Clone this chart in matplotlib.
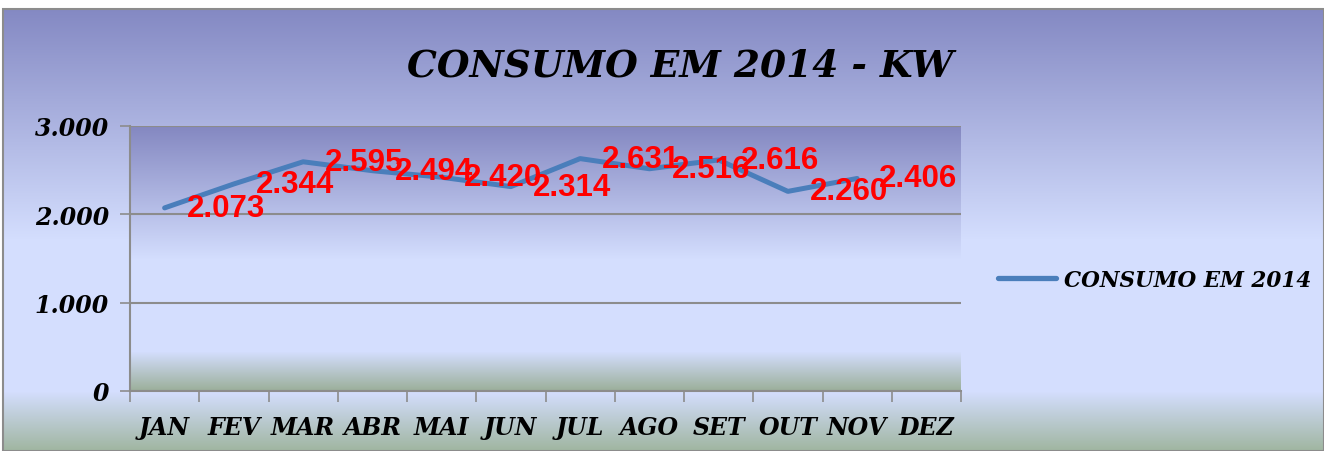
import numpy as np
import matplotlib
matplotlib.use("Agg")
import matplotlib.pyplot as plt
from matplotlib.colors import to_rgb
from matplotlib.lines import Line2D
from matplotlib.patches import Rectangle

# data
meses = ["JAN", "FEV", "MAR", "ABR", "MAI", "JUN", "JUL", "AGO", "SET", "OUT", "NOV", "DEZ"]
consumo = [2073, 2344, 2595, 2494, 2420, 2314, 2631, 2516, 2616, 2260, 2406]
y_ticks = [0, 1000, 2000, 3000]
y_tick_labels = ["0", "1.000", "2.000", "3.000"]
serie_nome = "CONSUMO EM 2014"
titulo = "CONSUMO EM 2014 - KW"

W, H = 1324, 452
FANCY = dict(family=["DejaVu Serif"], weight="bold", style="italic")


def vgrad(stops, n=H):
    """vertical gradient, stops = [(pixel_y_from_top, color), ...]"""
    ys = np.arange(n)
    pos = [s[0] for s in stops]
    cols = np.array([to_rgb(s[1]) for s in stops])
    img = np.stack([np.interp(ys, pos, cols[:, k]) for k in range(3)], axis=-1)
    return np.repeat(img[:, None, :], 4, axis=1)


fig = plt.figure(figsize=(W / 100, H / 100), dpi=100)
fig.patch.set_facecolor("white")

# outer chart area background
bg = fig.add_axes([0, 0, 1, 1], zorder=-2)
outer = vgrad([(10, "#8489c3"), (240, "#d4defe"), (392, "#d4defe"), (452, "#9fb59f")])
bg.imshow(outer[10:], extent=(3, W, H, 10), aspect="auto", interpolation="nearest")
bg.add_patch(Rectangle((3, 10), W - 3, H - 10, fill=False, ec="#8c8c8c", lw=1.5))
bg.set_xlim(0, W)
bg.set_ylim(H, 0)
bg.axis("off")

# plot area
x0, x1, yt, yb = 130, 961, 127, 392
ax = fig.add_axes([x0 / W, 1 - yb / H, (x1 - x0) / W, (yb - yt) / H])
ax.set_facecolor("none")
inner = vgrad([(0, "#8488c1"), (133, "#d4defe"), (225, "#d4defe"), (265, "#9aae98")], n=yb - yt)
ax.imshow(inner, extent=(0, 1, 0, 1), transform=ax.transAxes, aspect="auto",
          interpolation="nearest", zorder=0)

x = np.arange(len(consumo))
ax.plot(x, consumo, color="#4a7ebb", lw=3.6, solid_capstyle="round", zorder=3)

for xi, v in zip(x, consumo):
    ax.annotate(f"{v / 1000:.3f}", (xi, v), xytext=(16, 0), textcoords="offset points",
                ha="left", va="center", color="red", fontsize=22.5, fontweight="bold",
                family="Liberation Sans", zorder=4)

ax.set_xlim(-0.5, len(meses) - 0.5)
ax.set_ylim(0, 3000)
ax.set_xticks(range(len(meses)))
ax.set_xticklabels(meses, **FANCY, fontsize=17)
ax.set_xticks(np.arange(-0.5, len(meses)), minor=True)
ax.tick_params(axis="x", which="major", length=0, pad=17)
ax.tick_params(axis="x", which="minor", length=8, width=1.2, color="#8c8c8c")
ax.set_yticks(y_ticks)
ax.set_yticklabels(y_tick_labels, **FANCY, fontsize=17)
ax.tick_params(axis="y", length=7, width=1.2, color="#8c8c8c", pad=8)
ax.grid(axis="y", color="#8c8c8c", lw=1.5, zorder=1)
ax.set_axisbelow(False)
for s in ["top", "right"]:
    ax.spines[s].set_visible(False)
for s in ["left", "bottom"]:
    ax.spines[s].set_color("#8c8c8c")
    ax.spines[s].set_linewidth(1.5)
    ax.spines[s].set_zorder(2)

fig.text(680 / W, 1 - 66 / H, titulo, ha="center", va="center", fontsize=27, **FANCY)

handle = Line2D([], [], color="#4a7ebb", lw=3.8, solid_capstyle="round")
fig.legend([handle], [serie_nome], loc="center left", bbox_to_anchor=(998 / W, 1 - 281 / H),
           frameon=False, handlelength=2.7, handletextpad=0.35, borderaxespad=0,
           borderpad=0, prop=dict(family="DejaVu Serif", weight="bold", style="italic",
                                  size=15.5))

fig.savefig("out.png", dpi=100)
